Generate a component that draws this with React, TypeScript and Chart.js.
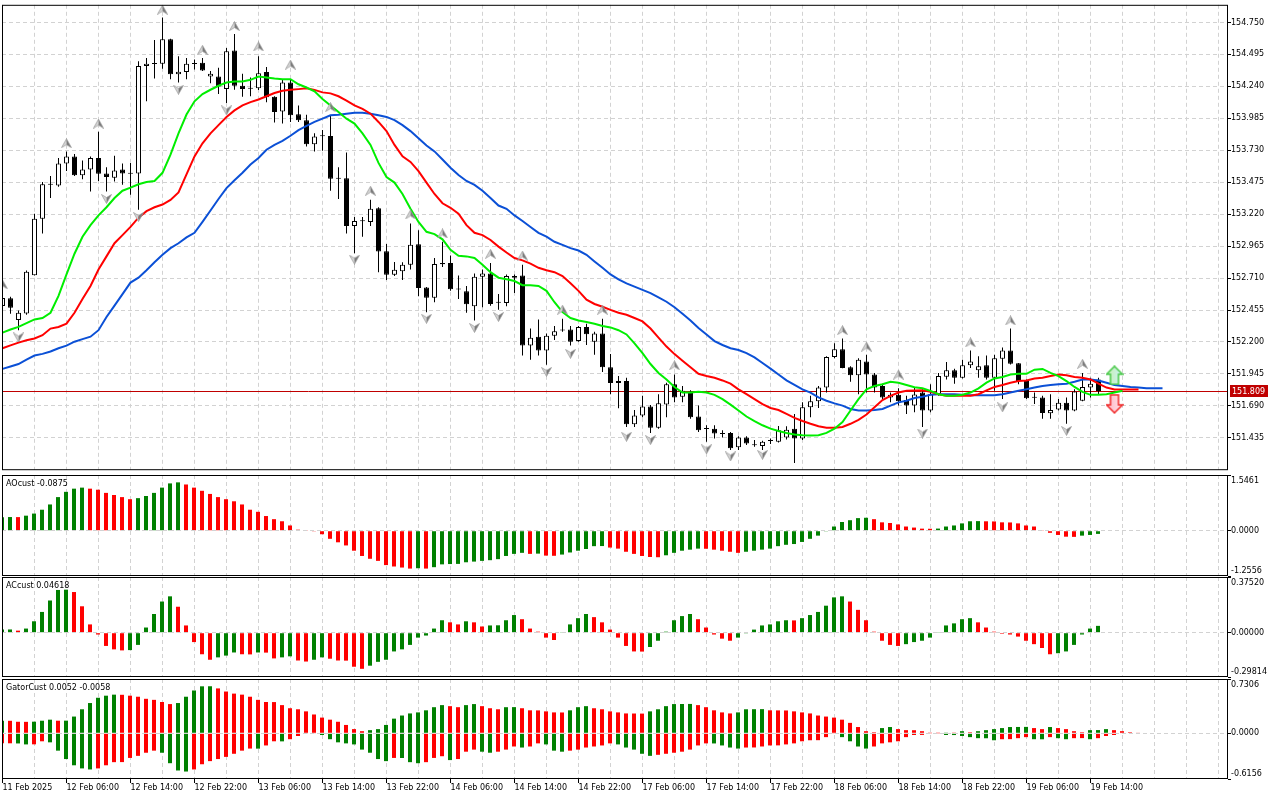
import React, { useEffect, useRef } from "react";
import { Chart, registerables } from "chart.js";

Chart.register(...registerables);

// ---------------- data ----------------
const TIME_LABELS = [
  "11 Feb 2025", "12 Feb 06:00", "12 Feb 14:00", "12 Feb 22:00", "13 Feb 06:00", "13 Feb 14:00",
  "13 Feb 22:00", "14 Feb 06:00", "14 Feb 14:00", "14 Feb 22:00", "17 Feb 06:00", "17 Feb 14:00",
  "17 Feb 22:00", "18 Feb 06:00", "18 Feb 14:00", "18 Feb 22:00", "19 Feb 06:00", "19 Feb 14:00",
];

const OPEN = [
  152.488, 152.548, 152.375, 152.427, 152.733, 153.184, 153.459, 153.448, 153.624, 153.681,
  153.530, 153.577, 153.668, 153.545, 153.511, 153.577, 153.548, 153.545, 154.402, 154.422,
  154.420, 154.616, 154.336, 154.355, 154.422, 154.428, 154.318, 154.318, 154.218, 154.527,
  154.245, 154.226, 154.224, 154.355, 154.158, 154.040, 154.271, 154.017, 153.970, 153.778,
  153.846, 153.844, 153.509, 153.506, 153.126, 153.169, 153.158, 153.268, 152.925, 152.737,
  152.765, 152.817, 152.980, 152.634, 152.553, 152.831, 152.831, 152.623, 152.605, 152.485,
  152.721, 152.747, 152.519, 152.511, 152.713, 152.731, 152.171, 152.242, 152.132, 152.250,
  152.297, 152.299, 152.207, 152.320, 152.202, 152.268, 151.998, 151.872, 151.888, 151.543,
  151.613, 151.684, 151.516, 151.700, 151.862, 151.763, 151.804, 151.605, 151.511, 151.508,
  151.474, 151.474, 151.359, 151.437, 151.380, 151.370, 151.409, 151.404, 151.437, 151.508,
  151.429, 151.678, 151.726, 151.836, 152.079, 152.142, 151.998, 151.935, 152.045, 151.940,
  151.849, 151.757, 151.778, 151.736, 151.692, 151.796, 151.653, 151.783, 151.922, 151.975,
  151.914, 152.014, 151.975, 152.014, 151.914, 152.066, 152.132, 152.030, 151.888, 151.759,
  151.757, 151.631, 151.660, 151.715, 151.653, 151.731, 151.836, 151.901,
];
const HIGH = [
  152.566, 152.561, 152.451, 152.770, 153.224, 153.477, 153.524, 153.668, 153.721, 153.700,
  153.648, 153.681, 153.878, 153.595, 153.687, 153.624, 153.629, 154.441, 154.467, 154.611,
  154.789, 154.620, 154.480, 154.467, 154.454, 154.467, 154.362, 154.388, 154.546, 154.658,
  154.341, 154.310, 154.480, 154.394, 154.161, 154.292, 154.297, 154.088, 154.014, 153.865,
  153.891, 154.009, 153.595, 153.713, 153.197, 153.197, 153.336, 153.275, 152.982, 152.839,
  152.836, 153.145, 153.092, 152.639, 152.870, 153.000, 152.890, 152.731, 152.647, 152.747,
  152.778, 152.831, 152.582, 152.739, 152.739, 152.817, 152.307, 152.380, 152.268, 152.328,
  152.385, 152.328, 152.328, 152.346, 152.281, 152.385, 152.103, 151.928, 151.914, 151.657,
  151.770, 151.697, 151.783, 151.875, 151.940, 151.849, 151.814, 151.692, 151.535, 151.535,
  151.495, 151.482, 151.448, 151.448, 151.417, 151.412, 151.429, 151.529, 151.527, 151.626,
  151.718, 151.770, 151.849, 152.085, 152.189, 152.228, 152.006, 152.071, 152.097, 151.953,
  151.867, 151.796, 151.830, 151.770, 151.836, 151.822, 151.862, 151.953, 152.040, 151.987,
  152.058, 152.132, 152.085, 152.092, 152.097, 152.155, 152.307, 152.032, 151.901, 151.796,
  151.770, 151.783, 151.744, 151.757, 151.822, 151.953, 151.914, 151.914,
];
const LOW = [
  152.472, 152.425, 152.294, 152.417, 152.731, 153.066, 153.349, 153.438, 153.564, 153.524,
  153.498, 153.401, 153.485, 153.401, 153.480, 153.454, 153.375, 153.255, 154.121, 154.302,
  154.381, 154.297, 154.271, 154.297, 154.375, 154.362, 154.265, 154.179, 154.108, 154.213,
  154.158, 154.161, 154.210, 154.114, 153.951, 153.943, 153.956, 153.956, 153.760, 153.721,
  153.726, 153.407, 153.341, 153.066, 152.909, 153.040, 153.126, 152.757, 152.694, 152.726,
  152.694, 152.778, 152.564, 152.438, 152.517, 152.799, 152.608, 152.543, 152.433, 152.372,
  152.477, 152.490, 152.458, 152.485, 152.590, 152.092, 152.058, 152.092, 152.019, 152.215,
  152.281, 152.171, 152.202, 152.176, 152.097, 151.961, 151.783, 151.671, 151.521, 151.521,
  151.600, 151.474, 151.508, 151.600, 151.718, 151.718, 151.587, 151.482, 151.404, 151.429,
  151.437, 151.338, 151.338, 151.378, 151.364, 151.338, 151.385, 151.398, 151.422, 151.233,
  151.417, 151.600, 151.673, 151.796, 152.071, 151.990, 151.883, 151.783, 151.796, 151.796,
  151.744, 151.718, 151.692, 151.626, 151.639, 151.521, 151.639, 151.770, 151.901, 151.867,
  151.909, 151.993, 151.914, 151.901, 151.810, 151.744, 152.020, 151.862, 151.744, 151.704,
  151.587, 151.587, 151.653, 151.547, 151.647, 151.726, 151.757, 151.778,
];
const CLOSE = [
  152.550, 152.474, 152.433, 152.760, 153.184, 153.459, 153.454, 153.624, 153.681, 153.530,
  153.577, 153.668, 153.542, 153.517, 153.569, 153.545, 153.542, 154.402, 154.420, 154.418,
  154.616, 154.336, 154.357, 154.420, 154.418, 154.367, 154.341, 154.239, 154.520, 154.245,
  154.218, 154.221, 154.344, 154.153, 154.035, 154.271, 154.009, 153.970, 153.778, 153.839,
  153.841, 153.503, 153.503, 153.126, 153.165, 153.163, 153.263, 152.922, 152.737, 152.776,
  152.817, 152.975, 152.631, 152.553, 152.823, 152.820, 152.621, 152.619, 152.501, 152.721,
  152.747, 152.503, 152.513, 152.726, 152.726, 152.171, 152.234, 152.132, 152.250, 152.286,
  152.291, 152.202, 152.320, 152.262, 152.268, 151.998, 151.872, 151.888, 151.543, 151.613,
  151.684, 151.516, 151.710, 151.862, 151.757, 151.810, 151.600, 151.495, 151.506, 151.469,
  151.466, 151.351, 151.437, 151.390, 151.375, 151.404, 151.414, 151.495, 151.500, 151.429,
  151.678, 151.726, 151.836, 152.079, 152.142, 151.993, 151.935, 152.058, 151.940, 151.836,
  151.757, 151.778, 151.726, 151.692, 151.781, 151.653, 151.783, 151.928, 151.975, 151.914,
  152.014, 152.045, 152.006, 151.914, 152.071, 152.132, 152.026, 151.888, 151.751, 151.755,
  151.634, 151.657, 151.715, 151.653, 151.804, 151.841, 151.867, 151.809,
];

// Alligator lines (already shifted forward as drawn on the chart)
const JAW = [
  151.985, 152.004, 152.024, 152.059, 152.092, 152.105, 152.124, 152.150, 152.171, 152.202,
  152.223, 152.242, 152.294, 152.399, 152.490, 152.582, 152.674, 152.713, 152.773, 152.836,
  152.896, 152.949, 152.988, 153.035, 153.071, 153.158, 153.249, 153.341, 153.428, 153.491,
  153.550, 153.616, 153.668, 153.734, 153.773, 153.805, 153.846, 153.891, 153.925, 153.956,
  153.982, 154.009, 154.014, 154.022, 154.030, 154.030, 154.022, 154.009, 153.996, 153.970,
  153.931, 153.883, 153.825, 153.768, 153.721, 153.656, 153.590, 153.532, 153.485, 153.454,
  153.407, 153.349, 153.289, 153.263, 153.210, 153.165, 153.118, 153.071, 153.040, 153.000,
  152.975, 152.949, 152.930, 152.896, 152.843, 152.792, 152.739, 152.700, 152.668, 152.642,
  152.616, 152.590, 152.556, 152.521, 152.477, 152.425, 152.372, 152.312, 152.260, 152.207,
  152.176, 152.150, 152.136, 152.111, 152.077, 152.032, 151.987, 151.940, 151.893, 151.857,
  151.822, 151.796, 151.757, 151.731, 151.710, 151.692, 151.665, 151.653, 151.653, 151.657,
  151.665, 151.692, 151.718, 151.731, 151.753, 151.763, 151.778, 151.783, 151.783, 151.783,
  151.778, 151.775, 151.775, 151.775, 151.775, 151.783, 151.796, 151.810, 151.822, 151.836,
  151.849, 151.857, 151.862, 151.867, 151.883, 151.901, 151.901, 151.893, 151.875, 151.857,
  151.849, 151.841, 151.836, 151.830, 151.830, 151.830,
];
const TEETH = [
  152.150, 152.173, 152.195, 152.213, 152.228, 152.254, 152.307, 152.320, 152.346, 152.433,
  152.543, 152.647, 152.778, 152.883, 152.988, 153.053, 153.118, 153.192, 153.244, 153.275,
  153.297, 153.334, 153.393, 153.538, 153.681, 153.786, 153.865, 153.931, 153.996, 154.048,
  154.088, 154.114, 154.135, 154.161, 154.187, 154.205, 154.213, 154.218, 154.224, 154.212,
  154.192, 154.184, 154.161, 154.127, 154.088, 154.061, 154.022, 153.956, 153.883, 153.773,
  153.681, 153.637, 153.564, 153.472, 153.381, 153.307, 153.271, 153.224, 153.132, 153.071,
  153.053, 153.014, 152.961, 152.914, 152.870, 152.851, 152.825, 152.792, 152.773, 152.757,
  152.726, 152.668, 152.608, 152.537, 152.503, 152.481, 152.456, 152.433, 152.417, 152.391,
  152.364, 152.307, 152.234, 152.163, 152.103, 152.050, 151.998, 151.946, 151.928, 151.914,
  151.893, 151.867, 151.822, 151.783, 151.744, 151.704, 151.673, 151.657, 151.626, 151.594,
  151.569, 151.547, 151.527, 151.516, 151.516, 151.521, 151.547, 151.579, 151.621, 151.678,
  151.736, 151.770, 151.796, 151.810, 151.812, 151.814, 151.802, 151.783, 151.770, 151.770,
  151.770, 151.770, 151.783, 151.814, 151.841, 151.857, 151.875, 151.888, 151.893, 151.909,
  151.914, 151.928, 151.940, 151.935, 151.920, 151.914, 151.901, 151.867, 151.836, 151.820,
  151.820, 151.820, 151.820,
];
const LIPS = [
  152.275, 152.299, 152.320, 152.350, 152.380, 152.391, 152.433, 152.568, 152.739, 152.904,
  153.040, 153.132, 153.210, 153.275, 153.349, 153.407, 153.432, 153.459, 153.477, 153.485,
  153.550, 153.695, 153.865, 154.015, 154.121, 154.179, 154.213, 154.245, 154.271, 154.279,
  154.279, 154.292, 154.318, 154.310, 154.302, 154.297, 154.297, 154.257, 154.231, 154.200,
  154.139, 154.088, 154.035, 153.982, 153.943, 153.865, 153.773, 153.629, 153.517, 153.472,
  153.381, 153.263, 153.158, 153.079, 153.061, 153.019, 152.935, 152.888, 152.883, 152.870,
  152.817, 152.757, 152.713, 152.700, 152.686, 152.653, 152.653, 152.647, 152.608, 152.517,
  152.438, 152.391, 152.372, 152.359, 152.346, 152.328, 152.316, 152.294, 152.260, 152.189,
  152.111, 152.024, 151.953, 151.901, 151.841, 151.796, 151.796, 151.802, 151.796, 151.778,
  151.744, 151.700, 151.653, 151.605, 151.569, 151.535, 151.508, 151.490, 151.474, 151.461,
  151.456, 151.453, 151.456, 151.474, 151.508, 151.561, 151.653, 151.744, 151.822, 151.849,
  151.862, 151.883, 151.875, 151.857, 151.838, 151.830, 151.810, 151.783, 151.770, 151.770,
  151.778, 151.796, 151.830, 151.875, 151.909, 151.920, 151.940, 151.946, 151.946, 151.979,
  151.985, 151.953, 151.928, 151.888, 151.841, 151.802, 151.778, 151.778, 151.783, 151.796,
  151.810,
];

// [bar index, marker price]
const FRACTAL_UP = [
  [0, 152.660], [8, 153.786], [12, 153.943], [20, 154.852], [25, 154.532], [29, 154.721],
  [32, 154.559], [36, 154.414], [41, 154.074], [46, 153.407], [51, 153.218], [55, 153.066],
  [61, 152.904], [65, 152.890], [70, 152.458], [75, 152.458], [84, 152.014], [105, 152.294],
  [108, 152.163], [112, 151.940], [121, 152.197], [126, 152.372], [135, 152.026],
];
const FRACTAL_DOWN = [
  [2, 152.236], [13, 153.341], [17, 153.197], [22, 154.213], [28, 154.048], [44, 152.857],
  [53, 152.385], [59, 152.312], [62, 152.399], [68, 151.961], [71, 152.105], [78, 151.443],
  [81, 151.417], [88, 151.343], [91, 151.286], [95, 151.299], [115, 151.469], [125, 151.678],
  [133, 151.490],
];
const SIGNAL_UP = [[139, 151.934]];
const SIGNAL_DOWN = [[139, 151.706]];
const BID = 151.809;

const PRICE_TICKS = [
  151.435, 151.69, 151.945, 152.2, 152.455, 152.71, 152.965, 153.22, 153.475, 153.73,
  153.985, 154.24, 154.495, 154.75,
];

const AO = [
  0.376, 0.380, 0.378, 0.418, 0.476, 0.583, 0.729, 0.933, 1.079, 1.167,
  1.196, 1.167, 1.138, 1.050, 0.992, 0.933, 0.875, 0.904, 0.963, 1.050,
  1.196, 1.313, 1.342, 1.283, 1.196, 1.108, 1.021, 0.933, 0.875, 0.817,
  0.729, 0.583, 0.525, 0.408, 0.321, 0.263, 0.146, 0.029, 0.008, -0.019,
  -0.097, -0.224, -0.321, -0.408, -0.554, -0.700, -0.778, -0.836, -0.953, -0.992,
  -1.021, -1.050, -1.040, -1.050, -1.011, -0.933, -0.924, -0.920, -0.875, -0.856,
  -0.836, -0.817, -0.788, -0.700, -0.642, -0.613, -0.642, -0.635, -0.690, -0.695,
  -0.661, -0.603, -0.554, -0.506, -0.428, -0.425, -0.467, -0.496, -0.583, -0.642,
  -0.700, -0.729, -0.735, -0.681, -0.613, -0.554, -0.525, -0.496, -0.500, -0.525,
  -0.554, -0.583, -0.613, -0.583, -0.554, -0.525, -0.496, -0.428, -0.390, -0.369,
  -0.311, -0.224, -0.136, -0.019, 0.117, 0.243, 0.292, 0.350, 0.360, 0.321,
  0.233, 0.214, 0.175, 0.117, 0.088, 0.058, 0.055, 0.060, 0.117, 0.146,
  0.204, 0.263, 0.267, 0.262, 0.258, 0.233, 0.230, 0.204, 0.146, 0.117,
  0.019, -0.058, -0.117, -0.165, -0.170, -0.136, -0.117, -0.0875,
];
const AC = [
  0.021, 0.022, 0.014, 0.028, 0.077, 0.140, 0.217, 0.288, 0.290, 0.274,
  0.178, 0.056, -0.012, -0.089, -0.112, -0.119, -0.117, -0.082, 0.035, 0.126,
  0.210, 0.245, 0.175, 0.049, -0.063, -0.145, -0.182, -0.166, -0.154, -0.133,
  -0.145, -0.146, -0.133, -0.134, -0.173, -0.166, -0.159, -0.187, -0.194, -0.182,
  -0.166, -0.175, -0.187, -0.188, -0.229, -0.243, -0.222, -0.196, -0.182, -0.126,
  -0.112, -0.082, -0.033, -0.019, 0.028, 0.084, 0.070, 0.056, 0.077, 0.070,
  0.042, 0.049, 0.050, 0.084, 0.119, 0.091, 0.028, 0.007, -0.033, -0.049,
  0.002, 0.056, 0.098, 0.126, 0.105, 0.070, 0.021, -0.033, -0.089, -0.126,
  -0.127, -0.096, -0.054, 0.007, 0.084, 0.112, 0.126, 0.091, 0.035, -0.012,
  -0.040, -0.054, -0.033, -0.002, 0.021, 0.049, 0.056, 0.077, 0.084, 0.083,
  0.098, 0.119, 0.140, 0.182, 0.238, 0.245, 0.210, 0.154, 0.084, 0.007,
  -0.054, -0.082, -0.089, -0.077, -0.063, -0.054, -0.033, 0.002, 0.049, 0.063,
  0.091, 0.098, 0.070, 0.035, 0.007, -0.007, -0.012, -0.026, -0.054, -0.077,
  -0.103, -0.145, -0.138, -0.126, -0.082, -0.012, 0.028, 0.04618,
];
const GATOR_UP = [
  0.169, 0.168, 0.155, 0.154, 0.156, 0.169, 0.183, 0.169, 0.170, 0.225,
  0.323, 0.407, 0.478, 0.506, 0.520, 0.518, 0.506, 0.492, 0.464, 0.450,
  0.421, 0.393, 0.407, 0.492, 0.576, 0.632, 0.633, 0.604, 0.562, 0.534,
  0.520, 0.492, 0.450, 0.421, 0.420, 0.379, 0.337, 0.323, 0.295, 0.253,
  0.211, 0.183, 0.155, 0.112, 0.056, 0.028, 0.042, 0.056, 0.112, 0.197,
  0.239, 0.267, 0.281, 0.309, 0.351, 0.379, 0.365, 0.351, 0.379, 0.393,
  0.365, 0.337, 0.323, 0.351, 0.352, 0.337, 0.309, 0.308, 0.295, 0.281,
  0.280, 0.309, 0.351, 0.365, 0.337, 0.323, 0.295, 0.281, 0.267, 0.266,
  0.265, 0.295, 0.323, 0.365, 0.393, 0.394, 0.395, 0.379, 0.351, 0.309,
  0.281, 0.267, 0.281, 0.323, 0.324, 0.325, 0.309, 0.308, 0.307, 0.295,
  0.281, 0.267, 0.239, 0.225, 0.211, 0.183, 0.140, 0.084, 0.028, 0.014,
  0.070, 0.084, 0.056, 0.042, 0.041, 0.028, 0.003, 0.002, 0.004, 0.003,
  0.028, 0.014, 0.028, 0.042, 0.056, 0.070, 0.084, 0.085, 0.086, 0.070,
  0.056, 0.084, 0.070, 0.056, 0.028, 0.014, 0.042, 0.043, 0.056, 0.042,
  0.028, 0.014, 0.0052,
];
const GATOR_DOWN = [
  -0.136, -0.135, -0.137, -0.150, -0.149, -0.108, -0.122, -0.234, -0.347, -0.431,
  -0.473, -0.487, -0.473, -0.431, -0.389, -0.388, -0.332, -0.304, -0.262, -0.234,
  -0.262, -0.403, -0.501, -0.515, -0.487, -0.417, -0.375, -0.347, -0.318, -0.276,
  -0.234, -0.206, -0.207, -0.164, -0.108, -0.109, -0.080, -0.037, -0.009, -0.005,
  -0.023, -0.080, -0.122, -0.136, -0.150, -0.220, -0.262, -0.347, -0.375, -0.332,
  -0.333, -0.389, -0.403, -0.389, -0.332, -0.309, -0.361, -0.347, -0.248, -0.220,
  -0.248, -0.262, -0.248, -0.220, -0.178, -0.192, -0.178, -0.136, -0.150, -0.234,
  -0.248, -0.234, -0.220, -0.192, -0.178, -0.164, -0.136, -0.150, -0.192, -0.220,
  -0.276, -0.304, -0.290, -0.276, -0.262, -0.248, -0.220, -0.164, -0.136, -0.137,
  -0.164, -0.192, -0.206, -0.192, -0.191, -0.178, -0.164, -0.163, -0.150, -0.136,
  -0.108, -0.094, -0.093, -0.052, -0.009, -0.052, -0.108, -0.178, -0.206, -0.178,
  -0.136, -0.122, -0.108, -0.052, -0.023, -0.022, -0.009, -0.005, -0.023, -0.024,
  -0.037, -0.052, -0.066, -0.067, -0.094, -0.080, -0.079, -0.066, -0.052, -0.080,
  -0.081, -0.052, -0.066, -0.080, -0.066, -0.065, -0.080, -0.066, -0.037, -0.023,
  -0.0058,
];

const AO_RANGE = [-1.2556, 1.5461];
const AC_RANGE = [-0.29814, 0.3752];
const GATOR_RANGE = [-0.6156, 0.7306];
const AO_TITLE = "AOcust -0.0875";
const AC_TITLE = "ACcust 0.04618";
const GATOR_TITLE = "GatorCust 0.0052 -0.0058";

// ---------------- style / layout ----------------
const FONT = "'DejaVu Sans', Verdana, sans-serif";
const FONT_SIZE = 8;
const GRID = "#d2d2d2";
const DASH = [4, 3];
const GREEN_BAR = "#008000";
const RED_BAR = "#ff0000";
const JAW_COLOR = "#0b50d6";
const TEETH_COLOR = "#ff0000";
const LIPS_COLOR = "#00ee00";
const BID_COLOR = "#c00000";
const YMIN = 151.1765;
const YMAX = 154.891;
const XMIN = -0.0625;
const XMAX = 153.1875;
const XMIN_H = 0;
const XMAX_H = 153.25;
const GRID_X = Array.from({ length: 39 }, (_, k) => 4 * k);
const AXIS_W = 52;
const TICK_LEN = 3;

const labelFor = (v: number) =>
  v % 8 === 0 && v / 8 < TIME_LABELS.length ? TIME_LABELS[v / 8] : "";

const risingColors = (vals: number[]) =>
  vals.map((v, i) => ((i === 0 ? true : v > vals[i - 1]) ? GREEN_BAR : RED_BAR));
const gatorColors = (vals: number[], firstUp: boolean) =>
  vals.map((v, i) =>
    (i === 0 ? firstUp : Math.abs(v) > Math.abs(vals[i - 1])) ? GREEN_BAR : RED_BAR
  );

function makeFractal(up: boolean) {
  const c = document.createElement("canvas");
  c.width = 11;
  c.height = 10;
  const g = c.getContext("2d")!;
  if (!up) {
    g.translate(0, 10);
    g.scale(1, -1);
  }
  g.beginPath();
  g.moveTo(5.5, 0.5);
  g.lineTo(5.5, 6.5);
  g.lineTo(0.5, 9.5);
  g.closePath();
  g.fillStyle = "#d4d4d4";
  g.fill();
  g.beginPath();
  g.moveTo(5.5, 0.5);
  g.lineTo(10.5, 9.5);
  g.lineTo(5.5, 6.5);
  g.closePath();
  g.fillStyle = "#7a7a7a";
  g.fill();
  g.beginPath();
  g.moveTo(5.5, 0.5);
  g.lineTo(10.5, 9.5);
  g.lineTo(5.5, 6.5);
  g.lineTo(0.5, 9.5);
  g.closePath();
  g.strokeStyle = "#9a9a9a";
  g.lineWidth = 0.7;
  g.stroke();
  return c;
}

function makeSignal(up: boolean) {
  const c = document.createElement("canvas");
  c.width = 18;
  c.height = 20;
  const g = c.getContext("2d")!;
  if (!up) {
    g.translate(0, 20);
    g.scale(1, -1);
  }
  g.beginPath();
  g.moveTo(9, 1);
  g.lineTo(17, 9);
  g.lineTo(13, 9);
  g.lineTo(13, 19);
  g.lineTo(5, 19);
  g.lineTo(5, 9);
  g.lineTo(1, 9);
  g.closePath();
  const grad = g.createLinearGradient(0, 0, 18, 0);
  grad.addColorStop(0, up ? "#c6f2a8" : "#ffb4c4");
  grad.addColorStop(1, up ? "#cdefff" : "#ffe4ea");
  g.fillStyle = grad;
  g.fill();
  g.strokeStyle = up ? "#46c846" : "#f02828";
  g.lineWidth = 1.5;
  g.stroke();
  return c;
}

const framePlugin = {
  id: "frame",
  afterDraw(chart: any) {
    const { ctx, chartArea } = chart;
    const { left, top, right, bottom } = chartArea;
    ctx.save();
    ctx.strokeStyle = "#000";
    ctx.lineWidth = 1;
    ctx.strokeRect(left + 0.5, top + 0.5, right - left - 1, bottom - top - 1);
    ctx.restore();
  },
};

const bidPlugin = {
  id: "bid",
  beforeDatasetsDraw(chart: any) {
    const { ctx, chartArea } = chart;
    const y = Math.round(chart.scales.y.getPixelForValue(BID)) + 0.5;
    ctx.save();
    ctx.strokeStyle = BID_COLOR;
    ctx.lineWidth = 1;
    ctx.beginPath();
    ctx.moveTo(chartArea.left, y);
    ctx.lineTo(chartArea.right, y);
    ctx.stroke();
    ctx.restore();
  },
  afterDraw(chart: any) {
    const { ctx, chartArea } = chart;
    const yc = Math.round(chart.scales.y.getPixelForValue(BID));
    ctx.save();
    ctx.fillStyle = BID_COLOR;
    ctx.fillRect(chartArea.right + 2, yc - 6, 38, 12);
    ctx.fillStyle = "#fff";
    ctx.font = `${FONT_SIZE}px ${FONT}`;
    ctx.textBaseline = "middle";
    ctx.textAlign = "left";
    ctx.fillText(BID.toFixed(3), chartArea.right + 4, yc + 0.5);
    ctx.restore();
  },
};

function panelPlugin(title: string, range: number[], decimals: number) {
  return {
    id: "panelText",
    afterDraw(chart: any) {
      const { ctx, chartArea } = chart;
      const { left, top, right, bottom } = chartArea;
      const y0 = chart.scales.y.getPixelForValue(0);
      ctx.save();
      ctx.font = `${FONT_SIZE}px ${FONT}`;
      ctx.fillStyle = "#000";
      ctx.textBaseline = "middle";
      ctx.textAlign = "left";
      ctx.fillText(title, left + 4, top + 9);
      const x = right + TICK_LEN;
      ctx.fillText(range[1].toFixed(decimals), x, top + 5.5);
      ctx.fillText((0).toFixed(decimals), x, y0);
      ctx.fillText(range[0].toFixed(decimals), x, bottom - 5.5);
      ctx.restore();
    },
  };
}

function xScale(showLabels: boolean) {
  return {
    type: "linear",
    min: XMIN,
    max: XMAX,
    offset: false,
    grid: {
      offset: false,
      color: GRID,
      lineWidth: 1,
      drawTicks: showLabels,
      tickLength: 4,
      tickColor: (c: any) => (c.tick && labelFor(c.tick.value) ? "#000" : "rgba(0,0,0,0)"),
      tickBorderDash: [],
    },
    border: { display: false, dash: DASH },
    ticks: {
      display: showLabels,
      autoSkip: false,
      maxRotation: 0,
      minRotation: 0,
      align: "start",
      padding: 0,
      color: "#000",
      font: { family: FONT, size: FONT_SIZE },
      callback: (v: any) => labelFor(Number(v)),
    },
    afterBuildTicks: (s: any) => {
      s.ticks = GRID_X.map((v) => ({ value: v }));
    },
    afterFit: (s: any) => {
      s.height = showLabels ? 21 : 0;
    },
  };
}

const baseOptions = {
  responsive: false,
  maintainAspectRatio: false,
  animation: false,
  devicePixelRatio: 1,
  events: [],
  plugins: { legend: { display: false }, tooltip: { enabled: false } },
};

function mainConfig(imgs: any) {
  const line = (label: string, vals: number[], color: string, order: number) => ({
    type: "line",
    label,
    data: vals.map((v, i) => ({ x: i, y: v })),
    borderColor: color,
    borderWidth: 2,
    pointRadius: 0,
    tension: 0,
    order,
  });
  const markers = (label: string, pts: number[][], img: any, order: number) => ({
    type: "line",
    label,
    data: pts.map(([i, v]) => ({ x: i, y: v })),
    showLine: false,
    pointStyle: img,
    pointRadius: 6,
    order,
  });
  return {
    type: "bar",
    data: {
      datasets: [
        {
          type: "bar",
          label: "Wicks",
          data: LOW.map((l, i) => ({ x: i, y: [l, HIGH[i]] })),
          backgroundColor: "#000",
          borderWidth: 0,
          barThickness: 1,
          grouped: false,
          inflateAmount: 0,
          clip: 0,
          order: 7,
        },
        {
          type: "bar",
          label: "Bodies",
          data: OPEN.map((o, i) => ({ x: i, y: [o, CLOSE[i]] })),
          backgroundColor: OPEN.map((o, i) => (CLOSE[i] > o ? "#ffffff" : "#000000")),
          borderColor: "#000",
          borderWidth: 1,
          borderSkipped: false,
          barThickness: 5,
          minBarLength: 1,
          grouped: false,
          inflateAmount: 0,
          clip: 0,
          order: 6,
        },
        line("Jaw", JAW, JAW_COLOR, 5),
        line("Teeth", TEETH, TEETH_COLOR, 4),
        line("Lips", LIPS, LIPS_COLOR, 3),
        markers("Fractal up", FRACTAL_UP, imgs.up, 2),
        markers("Fractal down", FRACTAL_DOWN, imgs.down, 2),
        markers("Signal up", SIGNAL_UP, imgs.bigUp, 1),
        markers("Signal down", SIGNAL_DOWN, imgs.bigDown, 1),
      ],
    },
    options: {
      ...baseOptions,
      layout: { autoPadding: false, padding: { left: 2, right: 0, top: 1, bottom: 1 } },
      scales: {
        x: xScale(false),
        y: {
          position: "right",
          min: YMIN,
          max: YMAX,
          grid: {
            color: GRID,
            lineWidth: 1,
            tickLength: TICK_LEN,
            tickColor: "#000",
            tickBorderDash: [],
          },
          border: { display: false, dash: DASH },
          ticks: {
            autoSkip: false,
            padding: 0,
            color: "#000",
            font: { family: FONT, size: FONT_SIZE },
            callback: (v: any) => Number(v).toFixed(3),
          },
          afterBuildTicks: (s: any) => {
            s.ticks = PRICE_TICKS.map((v) => ({ value: v }));
          },
          afterFit: (s: any) => {
            s.width = AXIS_W;
          },
        },
      },
    },
    plugins: [bidPlugin, framePlugin],
  };
}

function histConfig(
  datasets: any[],
  range: number[],
  decimals: number,
  title: string,
  showX: boolean,
  pad: { top: number; bottom: number }
) {
  return {
    type: "bar",
    data: { datasets },
    options: {
      ...baseOptions,
      layout: { autoPadding: false, padding: { left: 2, right: 0, top: pad.top, bottom: pad.bottom } },
      scales: {
        x: xScale(showX),
        xh: { type: "linear", display: false, min: XMIN_H, max: XMAX_H, offset: false },
        y: {
          position: "right",
          min: range[0],
          max: range[1],
          grid: {
            color: (c: any) => (c.tick && c.tick.value === 0 ? GRID : "rgba(0,0,0,0)"),
            lineWidth: 1,
            tickLength: TICK_LEN,
            tickColor: "#000",
            tickBorderDash: [],
            z: 1,
          },
          border: { display: false, dash: DASH },
          ticks: { display: false },
          afterBuildTicks: (s: any) => {
            s.ticks = [{ value: range[0] }, { value: 0 }, { value: range[1] }];
          },
          afterFit: (s: any) => {
            s.width = AXIS_W;
          },
        },
      },
    },
    plugins: [framePlugin, panelPlugin(title, range, decimals)],
  };
}

const histSet = (label: string, vals: number[], colors: string[]) => ({
  type: "bar",
  label,
  data: vals.map((v, i) => ({ x: i, y: v })),
  backgroundColor: colors,
  borderWidth: 0,
  barThickness: 4,
  grouped: false,
  inflateAmount: 0,
  clip: 0,
  xAxisID: "xh",
});

export default function App() {
  const mainRef = useRef<HTMLCanvasElement | null>(null);
  const aoRef = useRef<HTMLCanvasElement | null>(null);
  const acRef = useRef<HTMLCanvasElement | null>(null);
  const gRef = useRef<HTMLCanvasElement | null>(null);

  useEffect(() => {
    Chart.defaults.font.family = FONT;
    Chart.defaults.font.size = FONT_SIZE;
    Chart.defaults.color = "#000";
    const imgs = {
      up: makeFractal(true),
      down: makeFractal(false),
      bigUp: makeSignal(true),
      bigDown: makeSignal(false),
    };
    const charts = [
      new Chart(mainRef.current as any, mainConfig(imgs) as any),
      new Chart(
        aoRef.current as any,
        histConfig([histSet("AO", AO, risingColors(AO))], AO_RANGE, 4, AO_TITLE, false, {
          top: 0,
          bottom: 1,
        }) as any
      ),
      new Chart(
        acRef.current as any,
        histConfig([histSet("AC", AC, risingColors(AC))], AC_RANGE, 5, AC_TITLE, false, {
          top: 0,
          bottom: 1,
        }) as any
      ),
      new Chart(
        gRef.current as any,
        histConfig(
          [
            histSet("Gator up", GATOR_UP, gatorColors(GATOR_UP, true)),
            histSet("Gator down", GATOR_DOWN, gatorColors(GATOR_DOWN, false)),
          ],
          GATOR_RANGE,
          4,
          GATOR_TITLE,
          true,
          { top: 1, bottom: 0 }
        ) as any
      ),
    ];
    return () => charts.forEach((c) => c.destroy());
  }, []);

  const abs = (top: number): React.CSSProperties => ({ position: "absolute", left: 0, top });
  return (
    <div style={{ position: "absolute", left: 0, top: 0, width: 1280, height: 800, background: "#fff" }}>
      <canvas ref={mainRef} width={1280} height={475} style={abs(0)} />
      <canvas ref={aoRef} width={1280} height={102} style={abs(475)} />
      <canvas ref={acRef} width={1280} height={101} style={abs(577)} />
      <canvas ref={gRef} width={1280} height={122} style={abs(678)} />
    </div>
  );
}
